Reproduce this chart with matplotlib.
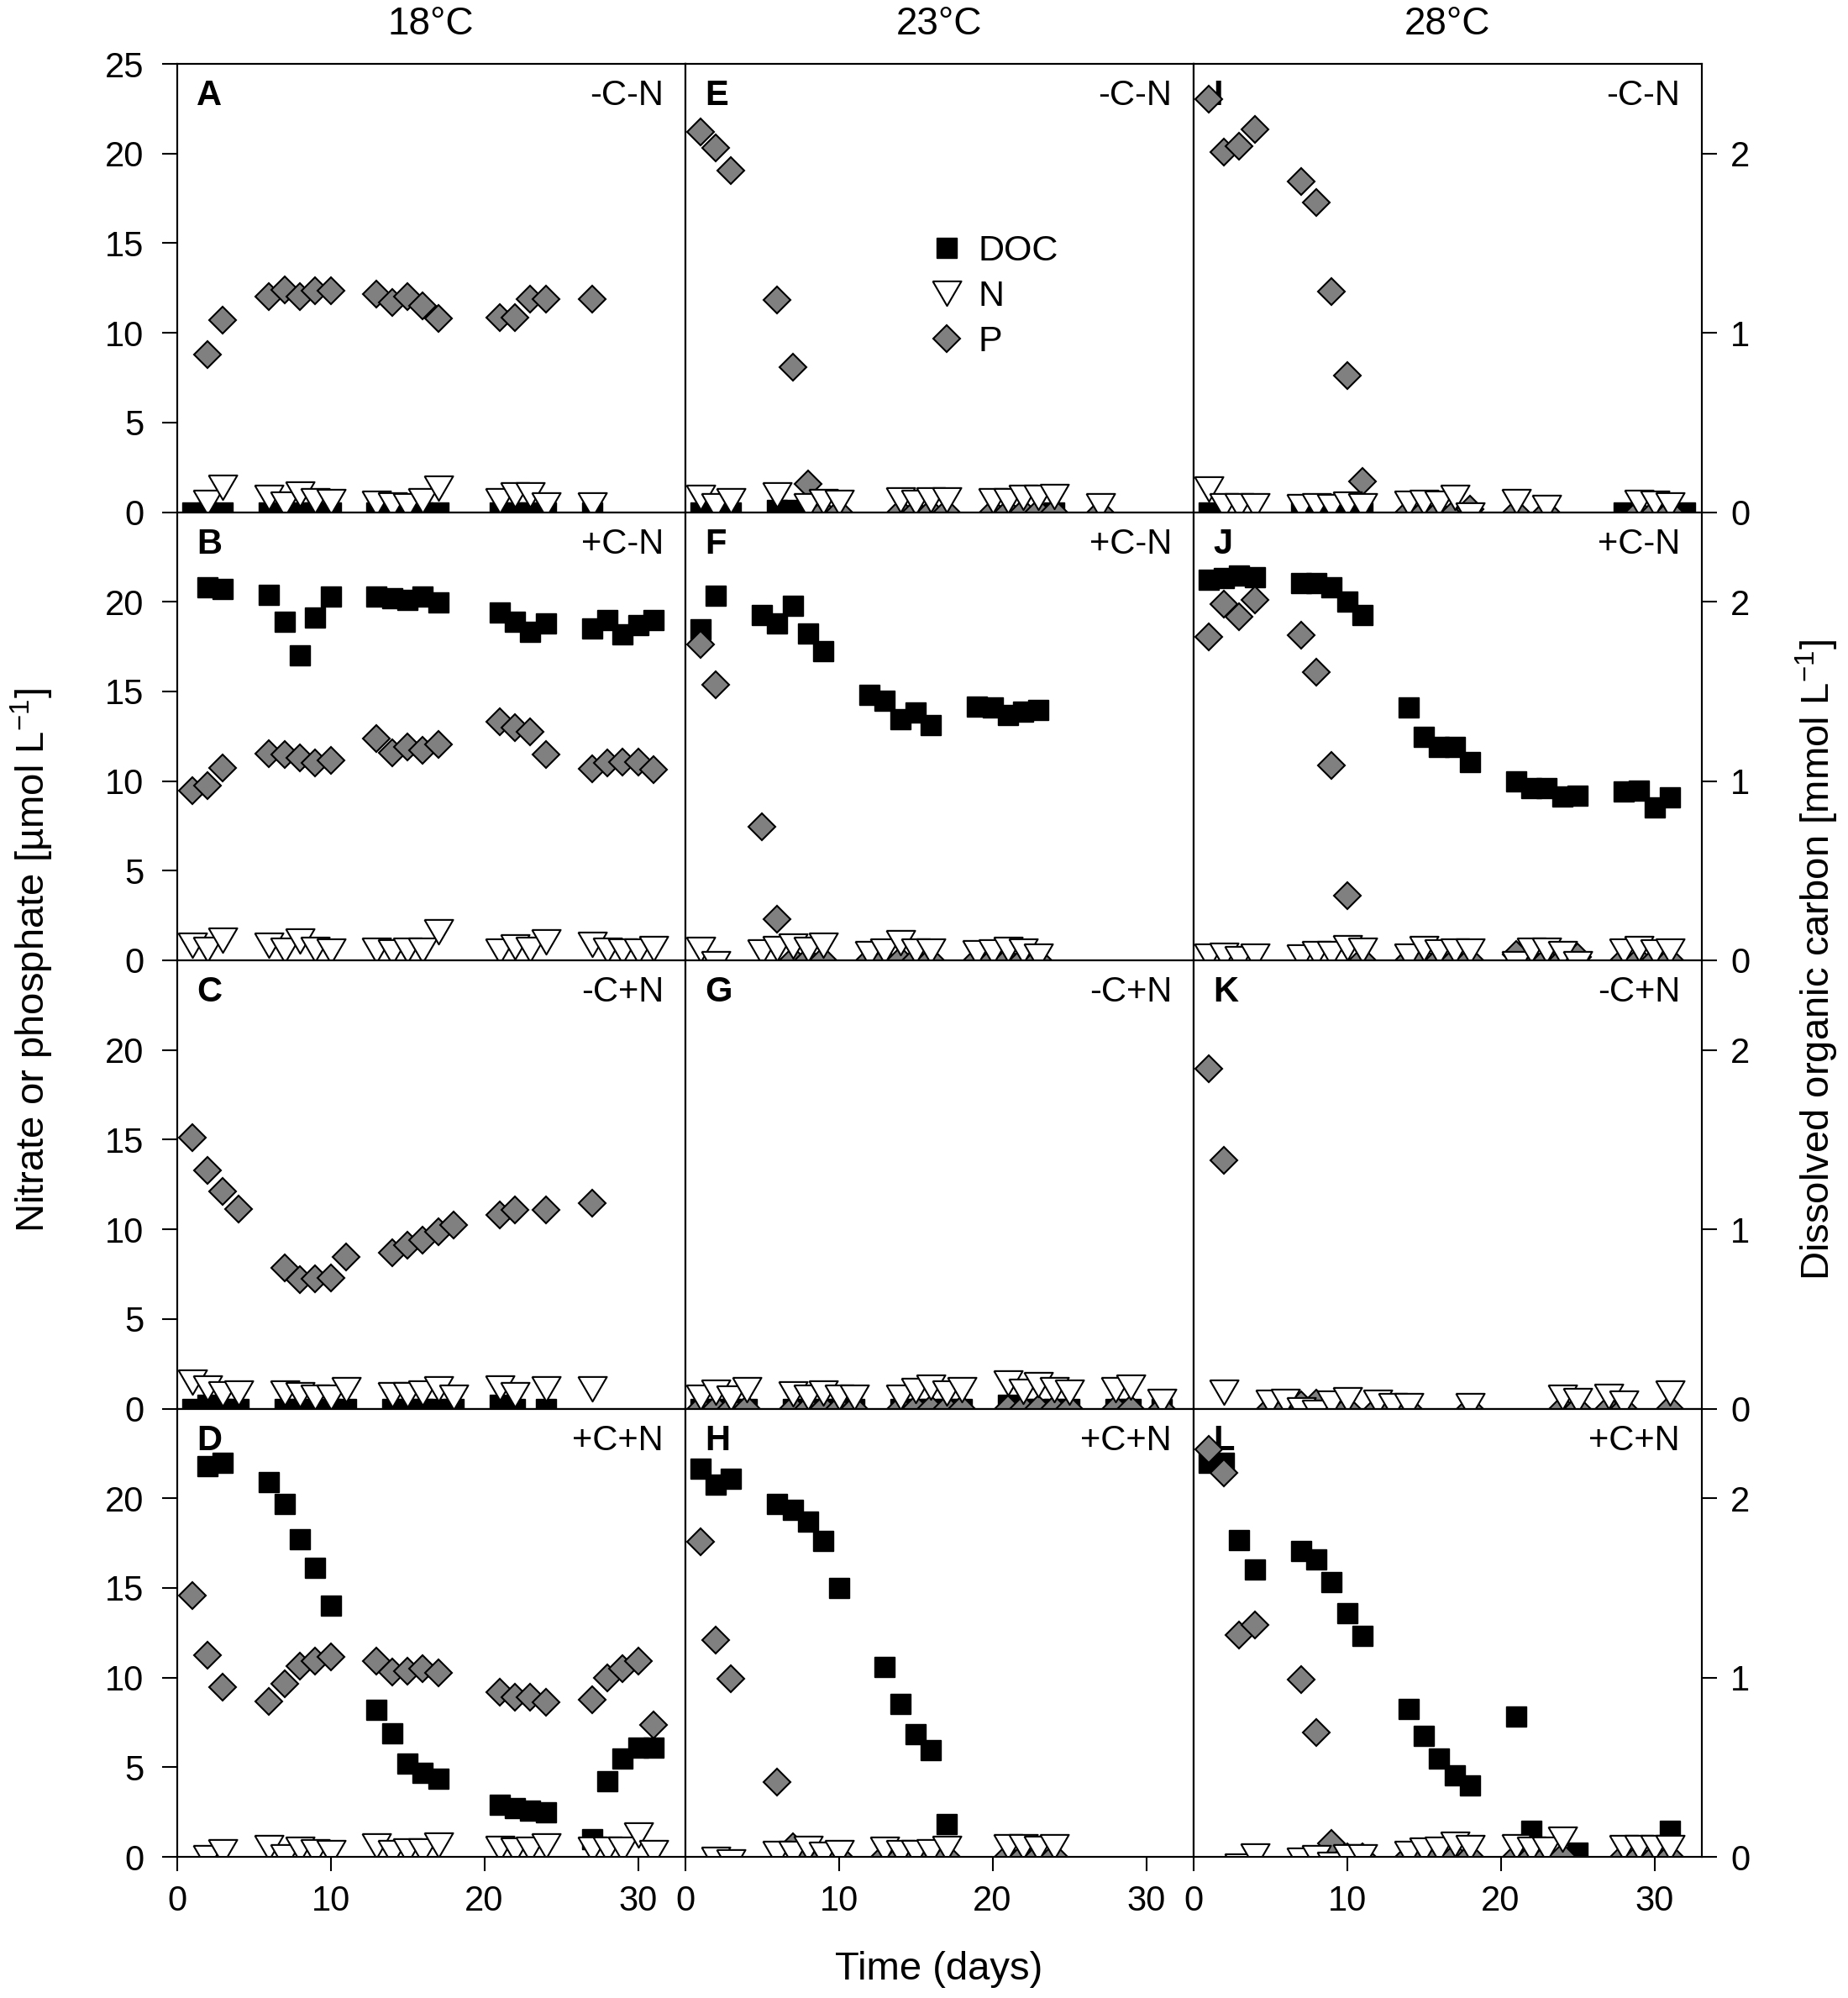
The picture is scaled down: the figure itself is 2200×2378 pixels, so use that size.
import numpy as np
import matplotlib
matplotlib.use('Agg')
import matplotlib.pyplot as plt
from matplotlib.lines import Line2D

plt.rcParams['font.family'] = ['Liberation Sans', 'DejaVu Sans']
plt.rcParams['mathtext.fontset'] = 'custom'
plt.rcParams['mathtext.rm'] = 'Liberation Sans'
plt.rcParams['mathtext.it'] = 'Liberation Sans:italic'
plt.rcParams['mathtext.bf'] = 'Liberation Sans:bold'

nan = np.nan

temperatures = ['18°C', '23°C', '28°C']
treatments = ['-C-N', '+C-N', '-C+N', '+C+N']
panel_letters = [['A', 'E', 'I'], ['B', 'F', 'J'], ['C', 'G', 'K'], ['D', 'H', 'L']]

# ---------------- 18 °C ----------------
days_A = [1, 2, 3, 6, 7, 8, 9, 10, 13, 14, 15, 16, 17, 21, 22, 23, 24, 27]
doc_A = [0, 0, 0, 0, 0, 0, 0, 0, 0, 0, 0, 0, 0, 0, 0, 0, 0, 0]
n_A = [nan, 0.56, 1.36, 0.84, 0.46, 1.03, 0.65, 0.6, 0.5, 0.41, 0.36, 0.65, 1.32, 0.65, 0.94, 0.94, 0.41, 0.41]
p_A = [nan, 8.8, 10.7, 12.0, 12.4, 12.0, 12.35, 12.35, 12.15, 11.7, 12.0, 11.5, 10.8, 10.85, 10.85, 11.9, 11.9, 11.9]

days_B = [1, 2, 3, 6, 7, 8, 9, 10, 13, 14, 15, 16, 17, 21, 22, 23, 24, 27, 28, 29, 30, 31]
doc_B = [nan, 2.08, 2.07, 2.04, 1.89, 1.70, 1.91, 2.03, 2.03, 2.02, 2.01, 2.03, 1.995, 1.94, 1.89, 1.83, 1.88, 1.85, 1.90, 1.82, 1.87, 1.90]
n_B = [0.84, 0.59, 1.12, 0.84, 0.55, 1.09, 0.59, 0.5, 0.55, 0.45, 0.57, 0.55, 1.57, 0.5, 0.75, 0.6, 1.04, 0.89, 0.57, 0.5, 0.5, 0.67]
p_B = [9.48, 9.73, 10.74, 11.52, 11.47, 11.27, 11.02, 11.14, 12.36, 11.56, 11.89, 11.73, 12.03, 13.33, 12.98, 12.75, 11.47, 10.69, 11.02, 11.07, 11.07, 10.64]

days_C = [1, 2, 3, 4, 7, 8, 9, 10, 11, 14, 15, 16, 17, 18, 21, 22, 24, 27]
doc_C = [0, 0.02, 0, 0, 0, 0, 0, 0, 0, 0, 0, 0, 0, 0, 0.02, 0, 0, nan]
n_C = [1.49, 1.16, 0.82, 0.87, 0.87, 0.79, 0.65, 0.65, 1.04, 0.75, 0.75, 0.87, 1.12, 0.62, 1.16, 0.79, 1.09, 1.12]
p_C = [15.13, 13.28, 12.11, 11.14, 7.87, 7.2, 7.25, 7.29, 8.46, 8.71, 9.1, 9.38, 9.85, 10.25, 10.8, 11.06, 11.1, 11.44]

days_D = [1, 2, 3, 6, 7, 8, 9, 10, 13, 14, 15, 16, 17, 21, 22, 23, 24, 27, 28, 29, 30, 31]
doc_D = [nan, 2.18, 2.20, 2.09, 1.97, 1.77, 1.61, 1.40, 0.82, 0.69, 0.52, 0.47, 0.435, 0.29, 0.27, 0.26, 0.25, 0.10, 0.42, 0.55, 0.61, 0.61]
n_D = [nan, -0.07, 0.29, 0.5, 0.0, 0.44, 0.3, 0.22, 0.59, 0.25, 0.35, 0.35, 0.67, 0.48, 0.38, 0.4, 0.63, 0.44, 0.44, 0.44, 1.2, 0.25]
p_D = [14.58, 11.25, 9.46, 8.65, 9.65, 10.63, 10.91, 11.16, 10.91, 10.31, 10.36, 10.5, 10.25, 9.18, 8.89, 8.89, 8.61, 8.74, 9.99, 10.5, 10.91, 7.35]

# ---------------- 23 °C ----------------
days_E = [1, 2, 3, 6, 7, 8, 9, 10, 14, 15, 16, 17, 20, 21, 22, 23, 24, 27]
doc_E = [0, 0, 0, 0.01, 0.01, nan, nan, nan, nan, nan, nan, nan, nan, nan, nan, nan, 0, nan]
n_E = [0.84, 0.36, 0.65, 0.98, nan, 0.36, 0.6, 0.55, 0.7, 0.55, 0.7, 0.7, 0.65, 0.65, 0.84, 0.84, 0.88, 0.36]
p_E = [21.2, 20.3, 19.05, 11.81, 8.08, 1.57, 0, 0, 0, 0, 0, 0, 0, 0, 0, 0, 0, 0]

days_F = [1, 2, 5, 6, 7, 8, 9, 12, 13, 14, 15, 16, 19, 20, 21, 22, 23]
doc_F = [1.844, 2.034, 1.925, 1.878, 1.977, 1.821, 1.725, 1.48, 1.45, 1.347, 1.384, 1.313, 1.414, 1.41, 1.369, 1.385, 1.395]
n_F = [0.59, -0.2, 0.47, 0.67, 0.79, 0.59, 0.84, 0.37, 0.5, 0.97, 0.5, 0.5, 0.42, 0.45, 0.59, 0.5, 0.22]
p_F = [17.6, 15.38, 7.47, 2.31, 0, 0, 0, 0, 0, 0, 0, 0, 0, 0, 0, 0, 0]

days_G = [1, 2, 3, 4, 7, 8, 9, 10, 11, 14, 15, 16, 17, 18, 21, 22, 23, 24, 25, 28, 29, 31]
doc_G = [0, 0, 0, 0, 0, 0, 0, 0, 0, 0, 0, 0, 0, 0, 0.02, 0, 0, 0, 0, 0, 0, 0]
n_G = [0.62, 0.92, 0.57, 1.04, 0.84, 0.62, 0.87, 0.62, 0.62, 0.62, 1.0, 1.2, 0.87, 1.07, 1.41, 0.95, 1.32, 1.07, 0.9, 1.07, 1.2, 0.41]
p_G = [0, 0, 0, 0, 0, 0, 0, 0, 0, 0, 0, 0, 0, 0, 0, 0, 0, 0, 0, 0, 0, 0]

days_H = [1, 2, 3, 6, 7, 8, 9, 10, 13, 14, 15, 16, 17, 21, 22, 23, 24]
doc_H = [2.163, 2.075, 2.11, 1.969, 1.937, 1.871, 1.762, 1.498, 1.061, 0.852, 0.682, 0.594, 0.185, nan, nan, nan, nan]
n_H = [nan, -0.13, -0.3, 0.19, 0.19, 0.48, 0.16, 0.22, 0.4, 0.22, 0.22, 0.29, 0.48, 0.54, 0.54, 0.48, 0.54]
p_H = [17.56, 12.1, 9.93, 4.18, 0.57, 0, 0, 0, 0, 0, 0, 0, 0, 0, 0, 0, 0]

# ---------------- 28 °C ----------------
days_I = [1, 2, 3, 4, 7, 8, 9, 10, 11, 14, 15, 16, 17, 18, 21, 23, 28, 29, 30, 31, 32]
doc_I = [0, nan, nan, nan, 0, 0, 0, 0, 0, nan, nan, nan, nan, nan, nan, nan, 0, nan, nan, nan, 0]
n_I = [1.27, 0.36, 0.36, 0.36, 0.3, 0.36, 0.32, 0.46, 0.36, 0.5, 0.56, 0.5, 0.84, -0.18, 0.6, 0.27, nan, 0.56, 0.5, 0.4, nan]
p_I = [23.01, 20.1, 20.43, 21.33, 18.46, 17.27, 12.29, 7.6, 1.7, 0, 0, 0, 0, 0.15, 0, 0, nan, 0, 0, 0, nan]

days_J = [1, 2, 3, 4, 7, 8, 9, 10, 11, 14, 15, 16, 17, 18, 21, 22, 23, 24, 25, 28, 29, 30, 31]
doc_J = [2.122, 2.132, 2.147, 2.137, 2.105, 2.105, 2.079, 2.003, 1.925, 1.412, 1.246, 1.188, 1.188, 1.107, 0.997, 0.961, 0.96, 0.916, 0.918, 0.94, 0.945, 0.853, 0.908]
n_J = [0.22, 0.3, 0.08, 0.25, 0.17, 0.39, 0.39, 0.72, 0.55, 0.22, 0.64, 0.45, 0.5, 0.5, -0.2, 0.55, 0.55, 0.37, -0.2, 0.5, 0.64, 0.47, 0.5]
p_J = [18.02, 19.85, 19.15, 20.1, 18.14, 16.05, 10.89, 3.62, 0, 0, 0, 0, 0, 0, 0.34, 0, 0, 0, 0.17, 0, 0, 0, 0]

days_K = [1, 2, 5, 6, 7, 8, 9, 10, 12, 13, 14, 18, 24, 25, 27, 28, 31]
doc_K = [nan] * 17
n_K = [nan, 0.9, 0.37, 0.42, -0.05, -0.2, 0.29, 0.49, 0.37, 0.15, 0.15, 0.15, 0.65, 0.45, 0.7, 0.29, 0.87]
p_K = [18.96, 13.85, 0, 0, 0.2, 0.3, 0, 0, 0, 0, 0, 0, 0, 0, 0, 0, 0]

days_L = [1, 2, 3, 4, 7, 8, 9, 10, 11, 14, 15, 16, 17, 18, 21, 22, 23, 24, 25, 28, 29, 30, 31]
doc_L = [2.2, 2.2, 1.766, 1.602, 1.705, 1.658, 1.532, 1.357, 1.234, 0.823, 0.673, 0.546, 0.454, 0.396, 0.782, 0.147, nan, nan, 0.023, nan, nan, nan, 0.147]
n_L = [nan, nan, -0.5, 0.06, -0.2, -0.07, -0.4, 0.02, 0.02, 0.19, 0.38, 0.44, 0.72, 0.5, 0.57, 0.44, 0.44, 0.97, nan, 0.5, 0.5, 0.5, 0.5]
p_L = [22.74, 21.42, 12.38, 12.95, 9.87, 6.92, 0.75, 0, 0, 0, 0, 0, 0, 0, 0, 0, 0, 0, nan, 0, 0, 0, 0]

panels = {
    'A': (days_A, doc_A, n_A, p_A), 'B': (days_B, doc_B, n_B, p_B),
    'C': (days_C, doc_C, n_C, p_C), 'D': (days_D, doc_D, n_D, p_D),
    'E': (days_E, doc_E, n_E, p_E), 'F': (days_F, doc_F, n_F, p_F),
    'G': (days_G, doc_G, n_G, p_G), 'H': (days_H, doc_H, n_H, p_H),
    'I': (days_I, doc_I, n_I, p_I), 'J': (days_J, doc_J, n_J, p_J),
    'K': (days_K, doc_K, n_K, p_K), 'L': (days_L, doc_L, n_L, p_L),
}

left_ticks_top = [0, 5, 10, 15, 20, 25]
left_ticks = [0, 5, 10, 15, 20]
right_ticks = [0, 1, 2]
x_ticks = [0, 10, 20, 30]

# ---------------- styles ----------------
FS = 30
GRAY = '#808080'
tri = [(-1.0, 0.86), (1.0, 0.86), (0.0, -0.86), (-1.0, 0.86)]
doc_style = dict(marker='s', ms=17.5, mfc='black', mec='black', mew=1.0, ls='none')
p_style = dict(marker='D', ms=16, mfc=GRAY, mec='black', mew=1.5, ls='none')
n_style = dict(marker=tri, ms=24.5, mfc='white', mec='black', mew=1.5, ls='none')

W, H = 2200, 2378
fig = plt.figure(figsize=(W / 100, H / 100), dpi=100)
left0, colw, top0, rowh = 210.5, 605.0, 76.0, 533.5

for r in range(4):
    for c in range(3):
        letter = panel_letters[r][c]
        days, doc, nn, pp = panels[letter]
        x0 = (left0 + c * colw) / W
        y0 = 1 - (top0 + (r + 1) * rowh) / H
        ax = fig.add_axes([x0, y0, colw / W, rowh / H])   # DOC axis (right)
        axn = ax.twinx()                                  # nutrient axis (left)

        ax.plot(days, doc, **doc_style)
        axn.plot(days, pp, **p_style)
        axn.plot(days, nn, **n_style)

        ax.set_xlim(0, 33.06)
        ax.set_ylim(0, 2.5)
        axn.set_ylim(0, 25)

        ax.yaxis.tick_right()
        axn.yaxis.tick_left()
        ax.set_yticks(right_ticks)
        axn.set_yticks(left_ticks_top if r == 0 else left_ticks)
        ax.set_xticks(x_ticks)

        for a in (ax, axn):
            for s in a.spines.values():
                s.set_linewidth(1.5)

        ax.tick_params(axis='y', direction='out', length=13, width=1.5,
                       labelsize=FS, pad=12, left=False, labelleft=False,
                       right=(c == 2), labelright=(c == 2))
        axn.tick_params(axis='y', direction='out', length=13, width=1.5,
                        labelsize=FS, pad=15, right=False, labelright=False,
                        left=(c == 0), labelleft=(c == 0))
        ax.tick_params(axis='x', direction='out', length=12.5, width=1.5,
                       labelsize=FS, pad=11, bottom=(r == 3), labelbottom=(r == 3),
                       top=False)

        ax.text(0.039, 0.966, letter, transform=ax.transAxes, ha='left', va='top',
                fontsize=FS, fontweight='bold')
        ax.text(0.958, 0.966, treatments[r], transform=ax.transAxes, ha='right',
                va='top', fontsize=FS)

        if letter == 'E':
            handles = [Line2D([], [], **doc_style), Line2D([], [], **n_style),
                       Line2D([], [], **p_style)]
            axn.legend(handles, ['DOC', 'N', 'P'], loc='upper left',
                       bbox_to_anchor=(0.48, 0.619), frameon=False, fontsize=31,
                       borderpad=0, borderaxespad=0, handlelength=1.0,
                       handletextpad=0.37, labelspacing=0.32)

for c in range(3):
    xc = (left0 + (c + 0.5) * colw) / W
    fig.text(xc, 1 - 41 / H, temperatures[c], ha='center', va='baseline', fontsize=33)

fig.text(38 / W, 1 - 1143 / H, r'Nitrate or phosphate [µmol L$^{-1}$]', rotation=90,
         ha='center', va='center', fontsize=34)
fig.text(2163 / W, 1 - 1143 / H, r'Dissolved organic carbon [mmol L$^{-1}$]', rotation=90,
         ha='center', va='center', fontsize=34)
fig.text((left0 + 1.5 * colw) / W, 1 - 2344 / H, 'Time (days)', ha='center',
         va='center', fontsize=34)

fig.savefig('out.png', dpi=100)
